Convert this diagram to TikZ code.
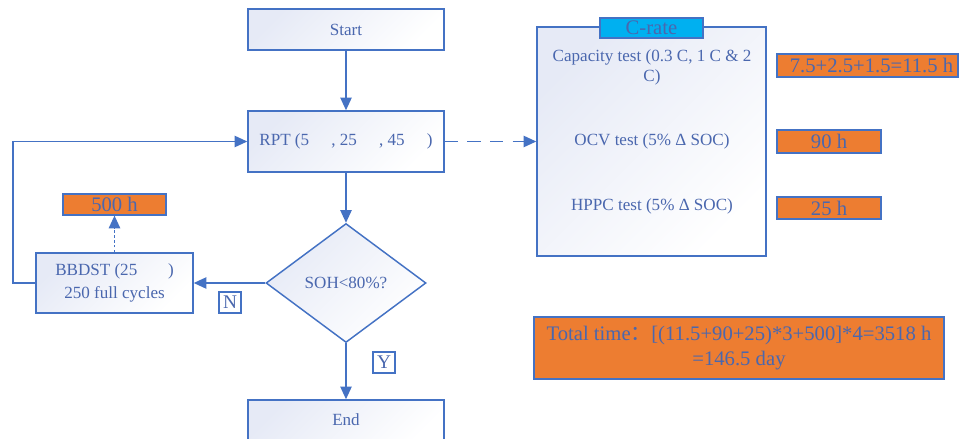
\documentclass[tikz,border=0pt]{standalone}
\usepackage{fontspec}
\setmainfont{Liberation Serif}
\newfontfamily\cjk{Noto Sans CJK SC}
\usetikzlibrary{arrows.meta,shapes.geometric,fit}
\definecolor{ln}{HTML}{4472C4}
\definecolor{tx}{HTML}{4A67AE}
\definecolor{org}{HTML}{ED7D31}
\definecolor{cy}{HTML}{00B0F0}
\definecolor{fa}{HTML}{E6EAF6}
\tikzset{
  box/.style={draw=ln, line width=1.1pt, top color=fa, bottom color=white, shading angle=45, inner sep=0pt},
  obox/.style={draw=ln, line width=0.9pt, fill=org, inner sep=0pt},
  lbl/.style={text=tx, font=\fontsize{12.8}{15}\selectfont, align=center},
  olbl/.style={text=tx, font=\fontsize{15.5}{17}\selectfont, align=center},
  tag/.style={draw=ln, line width=0.9pt, fill=white, text=tx, inner sep=0pt, font=\fontsize{14.5}{15}\selectfont},
  arr/.style={draw=ln, line width=1.1pt, -{Triangle[length=9.5pt,width=8.5pt]}},
}
\begin{document}
\begin{tikzpicture}[x=0.75pt,y=-0.75pt]
\useasboundingbox (0,0) rectangle (972,439);
% flow boxes
\node[box, fit={(248,9) (444,50)}] (start) {};
\node[lbl] at (start.center) {Start};
\node[box, fit={(248,111) (444,172)}] (rpt) {};
\node[lbl] at (rpt.center) {RPT (5\hspace{1.3em}, 25\hspace{1.3em}, 45\hspace{1.3em})};
\node[draw=ln, line width=1.1pt, top color=fa, bottom color=white, shading angle=45, diamond, minimum width=120pt, minimum height=89.25pt, inner sep=0pt] (soh) at (346,283) {};
\node[lbl] at (soh.center) {SOH<80\%?};
\node[box, fit={(248,400) (444,446)}] (end) {};
\node[lbl] at (346,420) {End};
\node[box, fit={(36,253) (193,313)}] (bb) {};
\node[lbl, font=\fontsize{12.8}{17}\selectfont] at (bb.center) {BBDST (25\hspace{1.8em})\\250 full cycles};
\node[obox, fit={(63,194) (166,215)}] (h500) {};
\node[olbl] at (h500.center) {500 h};
\node[tag, minimum width=16.5pt, minimum height=15.75pt] (n) at (230,302.5) {N};
\node[tag, minimum width=16.5pt, minimum height=15.75pt] (y) at (384,362.5) {Y};
% connectors
\draw[arr] (start.south) -- (rpt.north);
\draw[arr] (rpt.south) -- (soh.north);
\draw[arr] (soh.south) -- (end.north);
\draw[arr] (soh.west) -- (bb.east);
\coordinate (c1) at (13,283);
\coordinate (c2) at (13,141.5);
\draw[arr] (bb.west) -- (c1) -- (c2) -- (rpt.west |- c2);
\draw[draw=ln, line width=1.1pt, dash pattern=on 2pt off 1.6pt, -{Triangle[length=9.5pt,width=8.5pt]}] (bb.north -| h500.south) -- (h500.south);
% right panel
\node[box, fit={(537,27) (766,256)}] (panel) {};
\node[fill=cy, draw=ln, line width=1pt, fit={(600,18) (703,38)}, inner sep=0pt] (crate) {};
\node[olbl] at (crate.center) {C-rate};
\node[lbl] (cap) at (652,67) {Capacity test (0.3 C, 1 C \& 2\\C)};
\node[lbl] (ocv) at (652,141) {OCV test (5\% Δ SOC)};
\node[lbl] (hppc) at (652,206) {HPPC test (5\% Δ SOC)};
\draw[draw=ln, line width=1.1pt, dash pattern=on 10pt off 7pt, -{Triangle[length=9.5pt,width=8.5pt]}] (rpt.east |- c2) -- (panel.west |- c2);
\node[obox, fit={(777,54) (958,77)}] (o1) {};
\node[olbl] at ([xshift=3pt]o1.center) {7.5+2.5+1.5=11.5 h};
\node[obox, fit={(777,130) (881,153)}] (o2) {};
\node[olbl] at (o2.center) {90 h};
\node[obox, fit={(777,197) (881,219)}] (o3) {};
\node[olbl] at (o3.center) {25 h};
\node[obox, fit={(534,317) (944,379)}] (tot) {};
\node[olbl, font=\fontsize{15.5}{19}\selectfont] at (tot.center) {Total time{\cjk ：}[(11.5+90+25)*3+500]*4=3518 h\\=146.5 day};
\end{tikzpicture}
\end{document}
